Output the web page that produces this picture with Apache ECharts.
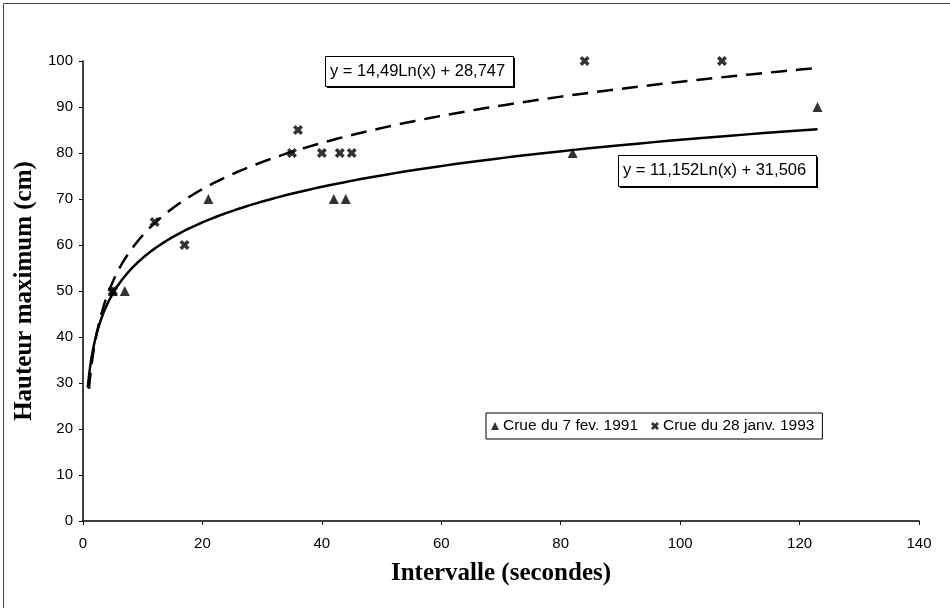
<!DOCTYPE html>
<html>
<head>
<meta charset="utf-8">
<script src="https://cdn.jsdelivr.net/npm/echarts@6/dist/echarts.min.js"></script>
<style>
html,body{margin:0;padding:0;background:#fff;}
#chart{width:950px;height:608px;}
</style>
</head>
<body>
<div id="chart"></div>
<script>
// ---- Data ----
const xTicks = [0, 20, 40, 60, 80, 100, 120, 140];
const yTicks = [0, 10, 20, 30, 40, 50, 60, 70, 80, 90, 100];
const seriesNames = ['Crue du 7 fev. 1991', 'Crue du 28 janv. 1993'];
const crue1991X = [5, 7, 21, 42, 44, 82, 123];
const crue1991Y = [50, 50, 70, 70, 70, 80, 90];
const crue1993X = [5, 12, 17, 35, 36, 40, 43, 45, 84, 107];
const crue1993Y = [50, 65, 60, 80, 85, 80, 80, 80, 100, 100];
// Trendline equations printed on the chart: y = a*Ln(x) + b
const trend1991 = { a: 11.152, b: 31.506, from: 0.8, to: 123, label: 'y = 11,152Ln(x) + 31,506' };
const trend1993 = { a: 14.49, b: 28.747, from: 1, to: 123, label: 'y = 14,49Ln(x) + 28,747' };

function trendPoints(t) {
  const pts = [];
  const n = 200;
  for (let i = 0; i <= n; i++) {
    const x = t.from * Math.pow(t.to / t.from, i / n);
    pts.push([x, t.a * Math.log(x) + t.b]);
  }
  return pts;
}
function zip(xs, ys) { return xs.map((x, i) => [x, ys[i]]); }

const crossPath = 'path://M0,2.5 L2.5,0 L5,2.5 L7.5,0 L10,2.5 L7.5,5 L10,7.5 L7.5,10 L5,7.5 L2.5,10 L0,7.5 L2.5,5 Z';
const FONT = '"Liberation Sans", Arial, sans-serif';
const SERIF = '"Liberation Serif", "Times New Roman", serif';

const chart = echarts.init(document.getElementById('chart'), null, { renderer: 'canvas' });

function eqBox(x, y, w, h, text) {
  return [
    { type: 'rect', left: x + 2, top: y + 2, shape: { width: w, height: h }, style: { fill: '#000' }, z: 10 },
    { type: 'rect', left: x, top: y, shape: { width: w, height: h }, style: { fill: '#fff', stroke: '#000', lineWidth: 1 }, z: 11 },
    { type: 'text', left: x + 5, top: y + 7, style: { text: text, fill: '#000', font: '16.5px ' + FONT }, z: 12 }
  ];
}

const option = {
  backgroundColor: '#fff',
  animation: false,
  grid: { left: 83, right: 31, top: 61, bottom: 87, containLabel: false },
  xAxis: {
    type: 'value', min: 0, max: 140, interval: 20,
    name: 'Intervalle (secondes)', nameLocation: 'middle', nameGap: 40,
    nameTextStyle: { fontFamily: SERIF, fontWeight: 'bold', fontSize: 25, color: '#000' },
    axisLine: { onZero: false, lineStyle: { color: '#000', width: 1.5 } },
    axisTick: { show: true, length: 4, lineStyle: { color: '#000' } },
    axisLabel: { color: '#000', fontSize: 15, fontFamily: FONT, margin: 15 },
    splitLine: { show: false }
  },
  yAxis: {
    type: 'value', min: 0, max: 100, interval: 10,
    name: 'Hauteur maximum (cm)', nameLocation: 'middle', nameGap: 44, nameRotate: 90,
    nameTextStyle: { fontFamily: SERIF, fontWeight: 'bold', fontSize: 25, color: '#000' },
    axisLine: { show: true, onZero: false, lineStyle: { color: '#000', width: 1.5 } },
    axisTick: { show: true, length: 4, lineStyle: { color: '#000' } },
    axisLabel: { color: '#000', fontSize: 15, fontFamily: FONT, margin: 10 },
    splitLine: { show: false }
  },
  legend: {
    left: 486, top: 413,
    data: [
      { name: seriesNames[0], icon: 'triangle' },
      { name: seriesNames[1], icon: crossPath }
    ],
    itemWidth: 8, itemHeight: 8, itemGap: 13,
    padding: [5, 8, 5, 5],
    borderColor: '#000', borderWidth: 1, backgroundColor: '#fff',
    textStyle: { color: '#000', fontSize: 15.5, fontFamily: FONT, padding: [0, 0, 0, -1] },
    selectedMode: false
  },
  series: [
    {
      name: 'trend1991', type: 'line', data: trendPoints(trend1991), showSymbol: false, symbol: 'none',
      lineStyle: { color: '#000', width: 2.5 }, smooth: false, z: 2, silent: true
    },
    {
      name: 'trend1993', type: 'line', data: trendPoints(trend1993), showSymbol: false, symbol: 'none',
      lineStyle: { color: '#000', width: 2.5, type: [16, 9] }, smooth: false, z: 2, silent: true
    },
    {
      name: seriesNames[0], type: 'scatter', data: zip(crue1991X, crue1991Y),
      symbol: 'triangle', symbolSize: 10, itemStyle: { color: '#000' }, z: 5
    },
    {
      name: seriesNames[1], type: 'scatter', data: zip(crue1993X, crue1993Y),
      symbol: crossPath, symbolSize: 10, itemStyle: { color: '#000' }, z: 6
    }
  ],
  graphic: [
    { type: 'rect', left: 1, top: 1, shape: { width: 947, height: 605 }, style: { fill: 'none', stroke: '#444', lineWidth: 1 }, z: 0 }
  ].concat(eqBox(325, 56, 188, 30, trend1993.label))
   .concat(eqBox(618, 155, 198, 31, trend1991.label))
};
chart.setOption(option);
</script>
</body>
</html>
